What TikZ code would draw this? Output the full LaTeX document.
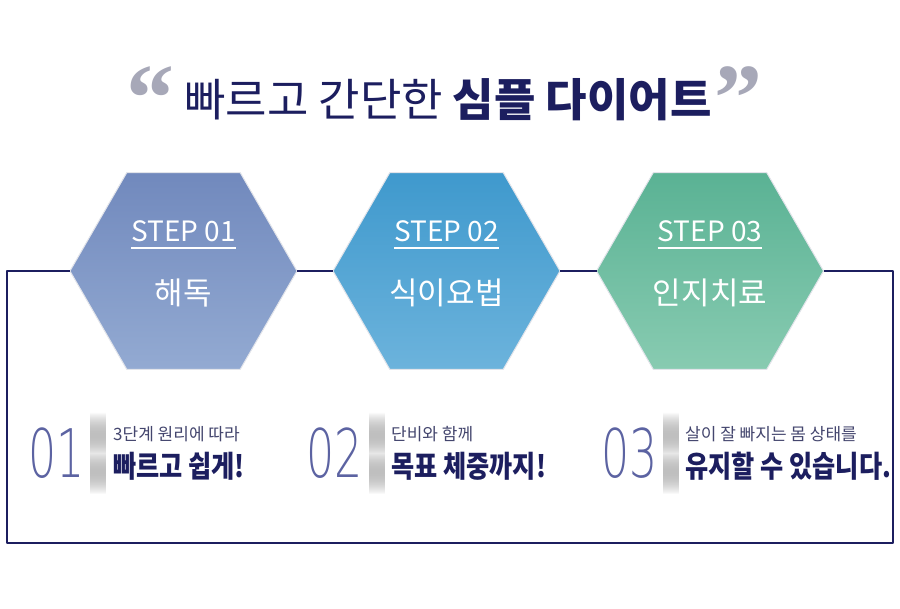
\documentclass[tikz,border=0pt]{standalone}
\usepackage{fontspec}
\setmainfont{Noto Sans CJK KR}
\newfontfamily\numfont{DejaVu Sans ExtraLight}
\newfontfamily\quotefont{Liberation Serif}
\usepackage{tikz}
\usetikzlibrary{shapes.geometric,positioning,fadings}
\definecolor{navy}{HTML}{1C1E5F}
\definecolor{quotegray}{HTML}{A7A8B8}
\definecolor{numblue}{HTML}{5C63A2}
\definecolor{ink}{HTML}{44466E}
\definecolor{hexrim}{HTML}{E2E4EA}
\definecolor{slate}{HTML}{7189BD}
\definecolor{slatelight}{HTML}{93AAD2}
\definecolor{sky}{HTML}{3F99CD}
\definecolor{skylight}{HTML}{6CB3DC}
\definecolor{mint}{HTML}{5AB294}
\definecolor{mintlight}{HTML}{88CBB1}
\tikzfading[name=fadeends,top color=transparent!100,bottom color=transparent!100,
  middle color=transparent!10]
\tikzset{
    every picture/.style={line cap=round,line join=round},
    hexnode/.style={regular polygon,regular polygon sides=6,minimum size=227pt,
      inner sep=0pt,outer sep=0pt,draw=hexrim,line width=1pt,shading=axis,
      shading angle=45},
    frameline/.style={draw=navy,line width=2pt,line cap=butt},
    steptitle/.style={text=white,inner sep=0pt,anchor=base,
      font=\fontsize{28}{30}\selectfont},
    stepname/.style={text=white,inner sep=0pt,anchor=base,
      font=\fontsize{31}{34}\selectfont},
    bignum/.style={text=numblue,inner sep=0pt,anchor=base west,
      font=\numfont\fontsize{67}{70}\selectfont},
    smallline/.style={text=ink,inner sep=0pt,anchor=base west,
      font=\fontsize{17}{19}\selectfont},
    boldline/.style={text=navy,inner sep=0pt,anchor=base west,
      font=\fontsize{30}{32}\selectfont\bfseries},
    quotemark/.style={text=quotegray,inner sep=0pt,anchor=base,
      font=\quotefont\bfseries\fontsize{96}{96}\selectfont},
    divshadow/.style={left color=white,middle color=black!9,right color=white,
      draw=none,path fading=fadeends}
}

\begin{document}
\begin{tikzpicture}[x=1pt,y=-1pt]
  \useasboundingbox[fill=white] (0,0) rectangle (900,609);
  % title
  \node[quotemark] (qopen) at (150,131) {“};
  \node[quotemark] (qclose) at (738,131) {”};
  \node[text=navy,inner sep=0pt,anchor=base,font=\fontsize{45}{48}\selectfont]
    (title) at (448,117) {빠르고 간단한 {\bfseries 심플 다이어트}};
  % hexagons
  \node[hexnode,top color=slate,middle color=slate,bottom color=slatelight]
    (h1) at (183.5,271) {};
  \node[hexnode,top color=sky,middle color=sky,bottom color=skylight]
    (h2) at (446.5,271) {};
  \node[hexnode,top color=mint,middle color=mint,bottom color=mintlight]
    (h3) at (710,271) {};
  \foreach \h/\t/\n in {h1/01/해독,h2/02/식이요법,h3/03/인지치료}{
    \node[steptitle] (s\t) at ([yshift=29pt]\h.center) {STEP \t};
    \draw[white,line width=1.3pt,line cap=butt]
      ([yshift=-6pt]s\t.base west) -- ([yshift=-6pt]s\t.base east);
    \node[stepname] (n\t) at ([yshift=-34pt]\h.center) {\n};
  }
  % frame
  \coordinate (tl) at (7,271);
  \coordinate (tr) at (893,271);
  \draw[frameline] (h1.west) -- (tl) |- (893,543) -- (tr) -- (h3.east);
  \draw[frameline] (h1.east) -- (h2.west);
  \draw[frameline] (h2.east) -- (h3.west);
  % points
  \fill[divshadow] (90,412) rectangle (106,494);
  \fill[divshadow] (369,412) rectangle (385,494);
  \fill[divshadow] (663,412) rectangle (679,494);
  \node[bignum] (d1) at (28,478) {\scalebox{0.66}[1]{01}};
  \node[bignum] (d2) at (306,478) {\scalebox{0.66}[1]{02}};
  \node[bignum] (d3) at (601,478) {\scalebox{0.66}[1]{03}};
  \node[smallline] (a1) at (113,441) {3단계 원리에 따라};
  \node[boldline] (b1) at (113,478) {\scalebox{0.84}[1]{빠르고 쉽게!}};
  \node[smallline] (a2) at (391,441) {단비와 함께};
  \node[boldline] (b2) at (391,478) {\scalebox{0.84}[1]{목표 체중까지!}};
  \node[smallline] (a3) at (685,441) {살이 잘 빠지는 몸 상태를};
  \node[boldline] (b3) at (685,478) {\scalebox{0.84}[1]{유지할 수 있습니다.}};
\end{tikzpicture}
\end{document}
